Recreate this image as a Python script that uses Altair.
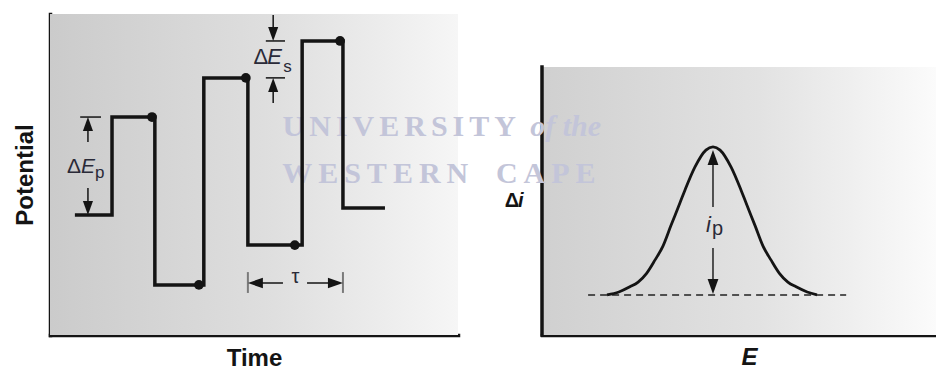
import altair as alt
import pandas as pd

# ---------------- square-wave potential programme (left panel) ----------------
# times of the step edges and the potential held after each edge
edge_time = [0.61, 1.52, 2.57, 3.77, 4.85, 6.18, 7.18, 8.21]
edge_potential = [3.74, 6.79, 1.56, 8.01, 2.80, 9.16, 3.96, 3.96]
# current-sampling instants at the end of each half cycle
sample_time = [2.50, 3.65, 4.80, 6.00, 7.11]
sample_potential = [6.79, 1.56, 8.01, 2.80, 9.16]

# ---------------- net current peak (right panel) ----------------
curve_E = [1.65, 1.95, 2.23, 2.44, 2.66, 2.87, 3.07, 3.27, 3.50, 3.63, 3.88, 4.16, 4.34,
           4.52, 4.80, 5.05, 5.18, 5.41, 5.61, 5.81, 6.02, 6.24, 6.45, 6.73, 6.98]
curve_di = [1.25, 1.34, 1.50, 1.65, 1.93, 2.34, 2.77, 3.40, 4.11, 4.52, 5.23, 5.76, 5.86,
            5.76, 5.23, 4.52, 4.11, 3.40, 2.77, 2.34, 1.93, 1.65, 1.50, 1.34, 1.25]
baseline_E = [1.17, 7.72]
baseline_di = 1.25

# faint watermark words
mark_words_left = ["U\u2006N\u2006I\u2006V\u2006E\u2006R\u2006S\u2006I\u2006T\u2006Y",
                   "W\u2009E\u2009S\u2009T\u2009E\u2009R\u2009N"]
mark_words_right = ["of the", "C\u2009A\u2009P\u2009E"]
mark_x_left = [5.70, 5.69]
mark_x_right = [-0.30, -1.17]
mark_y = [6.48, 5.02]

INK = "#141414"
SANS = "Liberation Sans"
WM_COLOR = "#c3c5d9"
W_LEFT, W_RIGHT, H = 408, 394, 321
PANEL_TOP = 8.35  # top of the shaded area in the right panel

ARROW = {
    "up": "M0,0L-0.72,2L0.72,2Z",
    "down": "M0,0L-0.72,-2L0.72,-2Z",
    "left": "M0,0L2,-0.7L2,0.7Z",
    "right": "M0,0L-2,-0.7L-2,0.7Z",
}
arrow_shape = alt.Scale(domain=list(ARROW), range=list(ARROW.values()))

axis_style = dict(labels=False, ticks=False, grid=False, domainColor=INK, domainWidth=3.5,
                  domainCap="square", titleFont=SANS, titleFontSize=24,
                  titleFontWeight="bold", titleColor=INK)


def grad(c0, c1, c2):
    return alt.Gradient(gradient="linear", x1=0, x2=1, y1=0, y2=0,
                        stops=[alt.GradientStop(color=c0, offset=0),
                               alt.GradientStop(color=c1, offset=0.55),
                               alt.GradientStop(color=c2, offset=1)])


def frame(df):
    return alt.Chart(pd.DataFrame(df))


# ============================ left panel ============================
tX = alt.X("t:Q", scale=alt.Scale(domain=[0, 10], nice=False, zero=False),
           axis=alt.Axis(title="Time", titlePadding=11, **axis_style))
pY = alt.Y("p:Q", scale=alt.Scale(domain=[0, 10], nice=False, zero=False),
           axis=alt.Axis(title="Potential", titlePadding=13, **axis_style))

bg_left = frame({"t": [0], "t2": [10], "p": [0], "p2": [10]}).mark_rect(
    fill=grad("#cbcbcb", "#dfdfdf", "#f6f6f6")).encode(x=tX, x2="t2", y=pY, y2="p2")

wm_left = frame({"t": mark_x_left, "p": mark_y, "w": mark_words_left}).mark_text(
    align="left", baseline="middle", font="Liberation Serif", fontSize=30,
    fontWeight="bold", color=WM_COLOR).encode(x=tX, y=pY, text="w:N")

trace = frame({"t": edge_time, "p": edge_potential}).mark_line(
    interpolate="step-after", color=INK, strokeWidth=3.5).encode(x=tX, y=pY)

dots = frame({"t": sample_time, "p": sample_potential}).mark_circle(
    size=95, color=INK, opacity=1).encode(x=tX, y=pY)

# ΔEp bracket: between the base level and the first pulse
ep_t = 0.93
ep_lo, ep_hi = edge_potential[0], edge_potential[1]
# ΔEs bracket: between two successive forward pulses
es_t = 5.47
es_lo, es_hi = edge_potential[3], edge_potential[5]
# τ: one full period between two falling edges
tau_a, tau_b, tau_p = edge_time[4], edge_time[6], 1.62

seg = {
    "t": [0.74, ep_t, ep_t, 5.29, 5.29, es_t, es_t, tau_a + 0.3, 6.30],
    "t2": [1.25, ep_t, ep_t, 5.76, 5.76, es_t, es_t, 5.71, tau_b - 0.3],
    "p": [ep_hi, 6.01, 4.58, es_hi, es_lo, 9.97, 7.23, tau_p, tau_p],
    "p2": [ep_hi, ep_hi - 0.3, ep_lo + 0.3, es_hi, es_lo, es_hi + 0.3, es_lo - 0.3, tau_p, tau_p],
}
segs_left = frame(seg).mark_rule(color=INK, strokeWidth=1.5).encode(
    x=tX, x2="t2", y=pY, y2="p2")

ticks_tau = frame({"t": [tau_a, tau_b], "p": [1.31, 1.31], "p2": [1.96, 1.96]}).mark_rule(
    color="#7a7a7a", strokeWidth=2).encode(x=tX, y=pY, y2="p2")

heads_left = frame({
    "t": [ep_t, ep_t, es_t, es_t],
    "p": [ep_hi, ep_lo, es_hi, es_lo],
    "d": ["up", "down", "down", "up"],
}).mark_point(filled=True, size=196, opacity=1, color=INK, strokeWidth=0).encode(
    x=tX, y=pY, shape=alt.Shape("d:N", scale=arrow_shape, legend=None))

heads_tau = frame({"t": [tau_a, tau_b], "p": [tau_p, tau_p], "d": ["left", "right"]}).mark_point(
    filled=True, size=225, opacity=1, color=INK, strokeWidth=0).encode(
    x=tX, y=pY, shape=alt.Shape("d:N", scale=arrow_shape, legend=None))


def ltext(t, p, s, **kw):
    style = dict(font=SANS, color="#2a2a38", baseline="alphabetic")
    style.update(kw)
    return frame({"t": [t], "p": [p], "s": [s]}).mark_text(**style).encode(
        x=tX, y=pY, text="s:N")


ep_mid = (ep_lo + ep_hi) / 2
es_mid = (es_lo + es_hi) / 2
labels_left = [
    ltext(ep_t, ep_mid, "Δ", align="right", dx=-7, dy=7, fontSize=21),
    ltext(ep_t, ep_mid, "E", align="left", dx=-7, dy=7, fontSize=21, fontStyle="italic"),
    ltext(ep_t, ep_mid, "p", align="left", dx=7, dy=12, fontSize=17),
    ltext(es_t, es_mid, "Δ", align="right", dx=-5, dy=5, fontSize=22),
    ltext(es_t, es_mid, "E", align="left", dx=-6, dy=5, fontSize=22, fontStyle="italic"),
    ltext(es_t, es_mid, "s", align="left", dx=10, dy=13, fontSize=17),
    ltext((tau_a + tau_b) / 2, tau_p, "τ", align="center", dy=0, fontSize=20),
]

left = alt.layer(bg_left, wm_left, trace, dots, segs_left, ticks_tau, heads_left, heads_tau,
                 *labels_left).properties(width=W_LEFT, height=H)

# ============================ right panel ============================
eX = alt.X("E:Q", scale=alt.Scale(domain=[0, 10], nice=False, zero=False),
           axis=alt.Axis(title="E", titlePadding=10, titleFontStyle="italic", titleX=207,
                         **axis_style))
iY = alt.Y("i:Q", scale=alt.Scale(domain=[0, 10], nice=False, zero=False), axis=None)

bg_right = frame({"E": [0], "E2": [10], "i": [0], "i2": [PANEL_TOP]}).mark_rect(
    fill=grad("#d0d0d0", "#e2e2e2", "#fbfbfb")).encode(x=eX, x2="E2", y=iY, y2="i2")

y_line = frame({"E": [0], "i": [0], "i2": [PANEL_TOP]}).mark_rule(
    color=INK, strokeWidth=3.5, strokeCap="square").encode(x=eX, y=iY, y2="i2")

wm_right = [
    frame({"E": [mark_x_right[0]], "i": [mark_y[0]], "w": [mark_words_right[0]]}).mark_text(
        align="left", baseline="middle", font="Liberation Serif", fontSize=30,
        fontWeight="bold", fontStyle="italic", color=WM_COLOR).encode(x=eX, y=iY, text="w:N"),
    frame({"E": [mark_x_right[1]], "i": [mark_y[1]], "w": [mark_words_right[1]]}).mark_text(
        align="left", baseline="middle", font="Liberation Serif", fontSize=30,
        fontWeight="bold", color=WM_COLOR).encode(x=eX, y=iY, text="w:N"),
]

base_line = frame({"E": [baseline_E[0]], "E2": [baseline_E[1]], "i": [baseline_di]}).mark_rule(
    color="#222", strokeWidth=1.5, strokeDash=[7, 5]).encode(x=eX, x2="E2", y=iY)

peak_line = frame({"E": curve_E, "i": curve_di}).mark_line(
    interpolate="monotone", color=INK, strokeWidth=2.8).encode(x=eX, y=iY)

peak_E = curve_E[curve_di.index(max(curve_di))]
peak_di = max(curve_di)
ip_top = peak_di - 0.1
ip_bot = baseline_di + 0.03

ip_shafts = frame({"E": [peak_E, peak_E], "i": [ip_top - 0.4, 2.71],
                   "i2": [3.99, ip_bot + 0.4]}).mark_rule(
    color="#222", strokeWidth=1.5).encode(x=eX, y=iY, y2="i2")

ip_heads = frame({"E": [peak_E, peak_E], "i": [ip_top, ip_bot], "d": ["up", "down"]}).mark_point(
    filled=True, size=225, opacity=1, color=INK, strokeWidth=0).encode(
    x=eX, y=iY, shape=alt.Shape("d:N", scale=arrow_shape, legend=None))


def rtext(E, i, s, **kw):
    style = dict(font=SANS, color="#2a2a38", baseline="alphabetic")
    style.update(kw)
    return frame({"E": [E], "i": [i], "s": [s]}).mark_text(**style).encode(
        x=eX, y=iY, text="s:N")


ip_mid = (baseline_di + peak_di) / 2
labels_right = [
    rtext(peak_E, ip_mid, "i", align="right", dx=-2, dy=11, fontSize=22, fontStyle="italic"),
    rtext(peak_E, ip_mid, "p", align="left", dx=-1, dy=14, fontSize=20),
    rtext(0, 4.0, "Δ", align="right", dx=-23, fontSize=20, fontWeight="bold", color=INK),
    rtext(0, 4.0, "i", align="left", dx=-24, fontSize=20, fontWeight="bold",
          fontStyle="italic", color=INK),
]

right = alt.layer(bg_right, y_line, *wm_right, base_line, peak_line, ip_shafts, ip_heads,
                  *labels_right).properties(width=W_RIGHT, height=H)

chart = alt.hconcat(left, right, spacing=84, bounds="flush").properties(
    padding={"left": 13, "top": 14, "right": 0, "bottom": 0},
    background="white",
).configure_view(stroke=None)

chart.save("out.html", embed_options={"renderer": "svg", "actions": False})
